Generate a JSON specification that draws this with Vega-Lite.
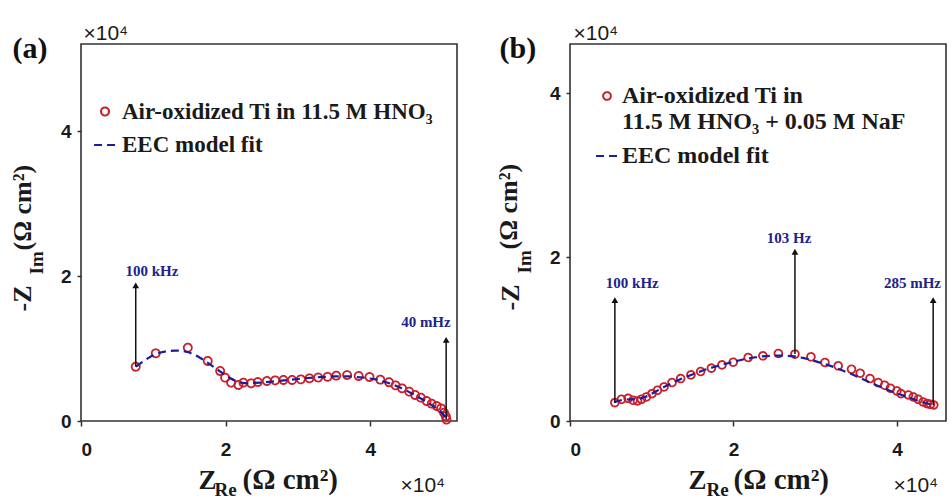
{
  "$schema": "https://vega.github.io/schema/vega-lite/v6.json",
  "background": "white",
  "padding": {"left": 8, "top": 21, "right": 0, "bottom": 0},
  "bounds": "flush",
  "spacing": 113,
  "resolve": {
    "scale": {"color": "independent", "shape": "independent", "strokeDash": "independent", "size": "independent"},
    "legend": {"color": "independent", "shape": "independent", "strokeDash": "independent", "size": "independent"}
  },
  "config": {
    "view": {"stroke": "#333333", "strokeWidth": 1.6},
    "axis": {"grid": false}
  },
  "datasets": {
    "a_pts": [
      {"s": "Air-oxidized Ti in 11.5 M HNO₃", "x": 7570, "y": 7490},
      {"s": "Air-oxidized Ti in 11.5 M HNO₃", "x": 10340, "y": 9340},
      {"s": "Air-oxidized Ti in 11.5 M HNO₃", "x": 14770, "y": 10110},
      {"s": "Air-oxidized Ti in 11.5 M HNO₃", "x": 17530, "y": 8280},
      {"s": "Air-oxidized Ti in 11.5 M HNO₃", "x": 19240, "y": 6900},
      {"s": "Air-oxidized Ti in 11.5 M HNO₃", "x": 19930, "y": 5980},
      {"s": "Air-oxidized Ti in 11.5 M HNO₃", "x": 20760, "y": 5290},
      {"s": "Air-oxidized Ti in 11.5 M HNO₃", "x": 21770, "y": 4970},
      {"s": "Air-oxidized Ti in 11.5 M HNO₃", "x": 22460, "y": 5290},
      {"s": "Air-oxidized Ti in 11.5 M HNO₃", "x": 23530, "y": 5200},
      {"s": "Air-oxidized Ti in 11.5 M HNO₃", "x": 24450, "y": 5380},
      {"s": "Air-oxidized Ti in 11.5 M HNO₃", "x": 25700, "y": 5520},
      {"s": "Air-oxidized Ti in 11.5 M HNO₃", "x": 26850, "y": 5610},
      {"s": "Air-oxidized Ti in 11.5 M HNO₃", "x": 28000, "y": 5660},
      {"s": "Air-oxidized Ti in 11.5 M HNO₃", "x": 29200, "y": 5660},
      {"s": "Air-oxidized Ti in 11.5 M HNO₃", "x": 30400, "y": 5750},
      {"s": "Air-oxidized Ti in 11.5 M HNO₃", "x": 31600, "y": 5890},
      {"s": "Air-oxidized Ti in 11.5 M HNO₃", "x": 32800, "y": 6000},
      {"s": "Air-oxidized Ti in 11.5 M HNO₃", "x": 34100, "y": 6100},
      {"s": "Air-oxidized Ti in 11.5 M HNO₃", "x": 35300, "y": 6250},
      {"s": "Air-oxidized Ti in 11.5 M HNO₃", "x": 36800, "y": 6340},
      {"s": "Air-oxidized Ti in 11.5 M HNO₃", "x": 38400, "y": 6210},
      {"s": "Air-oxidized Ti in 11.5 M HNO₃", "x": 39900, "y": 6070},
      {"s": "Air-oxidized Ti in 11.5 M HNO₃", "x": 41400, "y": 5700},
      {"s": "Air-oxidized Ti in 11.5 M HNO₃", "x": 42600, "y": 5350},
      {"s": "Air-oxidized Ti in 11.5 M HNO₃", "x": 43500, "y": 4920},
      {"s": "Air-oxidized Ti in 11.5 M HNO₃", "x": 44400, "y": 4510},
      {"s": "Air-oxidized Ti in 11.5 M HNO₃", "x": 45400, "y": 4050},
      {"s": "Air-oxidized Ti in 11.5 M HNO₃", "x": 46200, "y": 3590},
      {"s": "Air-oxidized Ti in 11.5 M HNO₃", "x": 47000, "y": 3220},
      {"s": "Air-oxidized Ti in 11.5 M HNO₃", "x": 47800, "y": 2760},
      {"s": "Air-oxidized Ti in 11.5 M HNO₃", "x": 48500, "y": 2390},
      {"s": "Air-oxidized Ti in 11.5 M HNO₃", "x": 49200, "y": 2070},
      {"s": "Air-oxidized Ti in 11.5 M HNO₃", "x": 49800, "y": 1750},
      {"s": "Air-oxidized Ti in 11.5 M HNO₃", "x": 50200, "y": 1150},
      {"s": "Air-oxidized Ti in 11.5 M HNO₃", "x": 50450, "y": 650},
      {"s": "Air-oxidized Ti in 11.5 M HNO₃", "x": 50550, "y": 200}
    ],
    "a_fit": [
      {"s": "EEC model fit", "x": 7600, "y": 7500},
      {"s": "EEC model fit", "x": 9000, "y": 8500},
      {"s": "EEC model fit", "x": 10000, "y": 9100},
      {"s": "EEC model fit", "x": 11000, "y": 9450},
      {"s": "EEC model fit", "x": 12000, "y": 9650},
      {"s": "EEC model fit", "x": 13000, "y": 9720},
      {"s": "EEC model fit", "x": 14000, "y": 9680},
      {"s": "EEC model fit", "x": 15000, "y": 9450},
      {"s": "EEC model fit", "x": 16000, "y": 9000},
      {"s": "EEC model fit", "x": 17000, "y": 8400},
      {"s": "EEC model fit", "x": 18000, "y": 7700},
      {"s": "EEC model fit", "x": 19000, "y": 7000},
      {"s": "EEC model fit", "x": 20000, "y": 6300},
      {"s": "EEC model fit", "x": 21000, "y": 5700},
      {"s": "EEC model fit", "x": 22000, "y": 5300},
      {"s": "EEC model fit", "x": 23000, "y": 5200},
      {"s": "EEC model fit", "x": 25000, "y": 5300},
      {"s": "EEC model fit", "x": 27000, "y": 5500},
      {"s": "EEC model fit", "x": 29000, "y": 5700},
      {"s": "EEC model fit", "x": 31000, "y": 5900},
      {"s": "EEC model fit", "x": 33000, "y": 6050},
      {"s": "EEC model fit", "x": 35000, "y": 6150},
      {"s": "EEC model fit", "x": 37000, "y": 6150},
      {"s": "EEC model fit", "x": 39000, "y": 6000},
      {"s": "EEC model fit", "x": 41000, "y": 5700},
      {"s": "EEC model fit", "x": 43000, "y": 5100},
      {"s": "EEC model fit", "x": 45000, "y": 4200},
      {"s": "EEC model fit", "x": 47000, "y": 3100},
      {"s": "EEC model fit", "x": 48500, "y": 2200},
      {"s": "EEC model fit", "x": 49500, "y": 1500},
      {"s": "EEC model fit", "x": 50200, "y": 800},
      {"s": "EEC model fit", "x": 50500, "y": 200}
    ],
    "a_arrows": [
      {"x": 7570, "y": 7490, "y2": 18700},
      {"x": 50500, "y": 200, "y2": 11200}
    ],
    "a_heads": [
      {"x": 7570, "y": 18700},
      {"x": 50500, "y": 11200}
    ],
    "a_labels": [
      {"x": 9800, "y": 20700, "label": "100 kHz"},
      {"x": 47700, "y": 13700, "label": "40 mHz"}
    ],
    "b_pts": [
      {"s": "Air-oxidized Ti in 11.5 M HNO₃ + 0.05 M NaF", "x": 5490, "y": 2240},
      {"s": "Air-oxidized Ti in 11.5 M HNO₃ + 0.05 M NaF", "x": 6300, "y": 2650},
      {"s": "Air-oxidized Ti in 11.5 M HNO₃ + 0.05 M NaF", "x": 7110, "y": 2770},
      {"s": "Air-oxidized Ti in 11.5 M HNO₃ + 0.05 M NaF", "x": 7720, "y": 2530},
      {"s": "Air-oxidized Ti in 11.5 M HNO₃ + 0.05 M NaF", "x": 8260, "y": 2450},
      {"s": "Air-oxidized Ti in 11.5 M HNO₃ + 0.05 M NaF", "x": 8740, "y": 2650},
      {"s": "Air-oxidized Ti in 11.5 M HNO₃ + 0.05 M NaF", "x": 9350, "y": 2940},
      {"s": "Air-oxidized Ti in 11.5 M HNO₃ + 0.05 M NaF", "x": 10040, "y": 3340},
      {"s": "Air-oxidized Ti in 11.5 M HNO₃ + 0.05 M NaF", "x": 10700, "y": 3750},
      {"s": "Air-oxidized Ti in 11.5 M HNO₃ + 0.05 M NaF", "x": 11500, "y": 4160},
      {"s": "Air-oxidized Ti in 11.5 M HNO₃ + 0.05 M NaF", "x": 12480, "y": 4690},
      {"s": "Air-oxidized Ti in 11.5 M HNO₃ + 0.05 M NaF", "x": 13540, "y": 5180},
      {"s": "Air-oxidized Ti in 11.5 M HNO₃ + 0.05 M NaF", "x": 14800, "y": 5630},
      {"s": "Air-oxidized Ti in 11.5 M HNO₃ + 0.05 M NaF", "x": 15980, "y": 6040},
      {"s": "Air-oxidized Ti in 11.5 M HNO₃ + 0.05 M NaF", "x": 17300, "y": 6450},
      {"s": "Air-oxidized Ti in 11.5 M HNO₃ + 0.05 M NaF", "x": 18600, "y": 6850},
      {"s": "Air-oxidized Ti in 11.5 M HNO₃ + 0.05 M NaF", "x": 19970, "y": 7180},
      {"s": "Air-oxidized Ti in 11.5 M HNO₃ + 0.05 M NaF", "x": 21800, "y": 7750},
      {"s": "Air-oxidized Ti in 11.5 M HNO₃ + 0.05 M NaF", "x": 23600, "y": 7950},
      {"s": "Air-oxidized Ti in 11.5 M HNO₃ + 0.05 M NaF", "x": 25490, "y": 8240},
      {"s": "Air-oxidized Ti in 11.5 M HNO₃ + 0.05 M NaF", "x": 27520, "y": 8160},
      {"s": "Air-oxidized Ti in 11.5 M HNO₃ + 0.05 M NaF", "x": 29480, "y": 7830},
      {"s": "Air-oxidized Ti in 11.5 M HNO₃ + 0.05 M NaF", "x": 31190, "y": 7140},
      {"s": "Air-oxidized Ti in 11.5 M HNO₃ + 0.05 M NaF", "x": 32810, "y": 6730},
      {"s": "Air-oxidized Ti in 11.5 M HNO₃ + 0.05 M NaF", "x": 34440, "y": 6320},
      {"s": "Air-oxidized Ti in 11.5 M HNO₃ + 0.05 M NaF", "x": 35500, "y": 5830},
      {"s": "Air-oxidized Ti in 11.5 M HNO₃ + 0.05 M NaF", "x": 36700, "y": 5180},
      {"s": "Air-oxidized Ti in 11.5 M HNO₃ + 0.05 M NaF", "x": 37700, "y": 4690},
      {"s": "Air-oxidized Ti in 11.5 M HNO₃ + 0.05 M NaF", "x": 38500, "y": 4360},
      {"s": "Air-oxidized Ti in 11.5 M HNO₃ + 0.05 M NaF", "x": 39200, "y": 4000},
      {"s": "Air-oxidized Ti in 11.5 M HNO₃ + 0.05 M NaF", "x": 40000, "y": 3670},
      {"s": "Air-oxidized Ti in 11.5 M HNO₃ + 0.05 M NaF", "x": 40500, "y": 3340},
      {"s": "Air-oxidized Ti in 11.5 M HNO₃ + 0.05 M NaF", "x": 41400, "y": 3180},
      {"s": "Air-oxidized Ti in 11.5 M HNO₃ + 0.05 M NaF", "x": 42000, "y": 2940},
      {"s": "Air-oxidized Ti in 11.5 M HNO₃ + 0.05 M NaF", "x": 42600, "y": 2650},
      {"s": "Air-oxidized Ti in 11.5 M HNO₃ + 0.05 M NaF", "x": 43200, "y": 2320},
      {"s": "Air-oxidized Ti in 11.5 M HNO₃ + 0.05 M NaF", "x": 43700, "y": 2120},
      {"s": "Air-oxidized Ti in 11.5 M HNO₃ + 0.05 M NaF", "x": 44100, "y": 2040},
      {"s": "Air-oxidized Ti in 11.5 M HNO₃ + 0.05 M NaF", "x": 44500, "y": 1960}
    ],
    "b_fit": [
      {"s": "EEC model fit", "x": 5400, "y": 2300},
      {"s": "EEC model fit", "x": 6500, "y": 2600},
      {"s": "EEC model fit", "x": 7500, "y": 2650},
      {"s": "EEC model fit", "x": 8500, "y": 2700},
      {"s": "EEC model fit", "x": 9500, "y": 3050},
      {"s": "EEC model fit", "x": 10500, "y": 3600},
      {"s": "EEC model fit", "x": 11500, "y": 4150},
      {"s": "EEC model fit", "x": 12500, "y": 4650},
      {"s": "EEC model fit", "x": 13500, "y": 5100},
      {"s": "EEC model fit", "x": 14500, "y": 5500},
      {"s": "EEC model fit", "x": 15500, "y": 5880},
      {"s": "EEC model fit", "x": 16500, "y": 6250},
      {"s": "EEC model fit", "x": 17500, "y": 6550},
      {"s": "EEC model fit", "x": 18500, "y": 6850},
      {"s": "EEC model fit", "x": 19500, "y": 7100},
      {"s": "EEC model fit", "x": 20500, "y": 7350},
      {"s": "EEC model fit", "x": 21500, "y": 7580},
      {"s": "EEC model fit", "x": 22500, "y": 7750},
      {"s": "EEC model fit", "x": 23500, "y": 7880},
      {"s": "EEC model fit", "x": 24500, "y": 7950},
      {"s": "EEC model fit", "x": 25500, "y": 7980},
      {"s": "EEC model fit", "x": 26500, "y": 7960},
      {"s": "EEC model fit", "x": 27500, "y": 7880},
      {"s": "EEC model fit", "x": 28500, "y": 7700},
      {"s": "EEC model fit", "x": 29500, "y": 7450},
      {"s": "EEC model fit", "x": 30500, "y": 7150},
      {"s": "EEC model fit", "x": 31500, "y": 6850},
      {"s": "EEC model fit", "x": 32500, "y": 6500},
      {"s": "EEC model fit", "x": 33500, "y": 6100},
      {"s": "EEC model fit", "x": 34500, "y": 5700},
      {"s": "EEC model fit", "x": 35500, "y": 5250},
      {"s": "EEC model fit", "x": 36500, "y": 4800},
      {"s": "EEC model fit", "x": 37500, "y": 4350},
      {"s": "EEC model fit", "x": 38500, "y": 3950},
      {"s": "EEC model fit", "x": 39500, "y": 3550},
      {"s": "EEC model fit", "x": 40500, "y": 3200},
      {"s": "EEC model fit", "x": 41500, "y": 2850},
      {"s": "EEC model fit", "x": 42500, "y": 2500},
      {"s": "EEC model fit", "x": 43500, "y": 2200},
      {"s": "EEC model fit", "x": 44400, "y": 1950}
    ],
    "b_arrows": [
      {"x": 5490, "y": 2240, "y2": 14750},
      {"x": 27520, "y": 8160, "y2": 20650},
      {"x": 44430, "y": 1960, "y2": 14750}
    ],
    "b_heads": [
      {"x": 5490, "y": 14750},
      {"x": 27520, "y": 20650},
      {"x": 44430, "y": 14750}
    ],
    "b_labels": [
      {"x": 7620, "y": 16800, "label": "100 kHz"},
      {"x": 26800, "y": 22300, "label": "103 Hz"},
      {"x": 41900, "y": 16800, "label": "285 mHz"}
    ]
  },
  "hconcat": [
    {
      "width": 376,
      "height": 377,
      "resolve": {"axis": {"x": "independent", "y": "independent"}},
      "layer": [
        {
          "data": {"name": "a_pts"},
          "mark": {"type": "point", "filled": false, "strokeWidth": 1.8, "opacity": 1},
          "encoding": {
            "x": {"field": "x", "type": "quantitative", "scale": {"domain": [0, 52000], "nice": false, "zero": false},
              "axis": {"orient": "bottom", "values": [0, 20000, 40000], "labelExpr": "'' + datum.value / 10000", "labelFont": "Liberation Sans", "labelFontWeight": "bold", "labelFontSize": 19, "labelColor": "#1a1a1a", "labelPadding": 14, "tickSize": 5, "tickColor": "#333333", "tickWidth": 1.5, "domain": false, "grid": false,
                "title": "Z", "titleFont": "Liberation Serif", "titleFontSize": 27, "titleFontWeight": "bold", "titleColor": "#1a1a1a", "titleX": 117, "titleY": 67, "titleAlign": "left", "titleBaseline": "alphabetic", "titleAngle": 0}},
            "y": {"field": "y", "type": "quantitative", "scale": {"domain": [0, 52000], "nice": false, "zero": false},
              "axis": {"orient": "left", "values": [0, 20000, 40000], "labelExpr": "'' + datum.value / 10000", "labelFont": "Liberation Sans", "labelFontWeight": "bold", "labelFontSize": 19, "labelColor": "#1a1a1a", "labelPadding": 6, "tickSize": 4, "tickColor": "#333333", "tickWidth": 1.5, "domain": false, "grid": false,
                "title": "-Z", "titleFont": "Liberation Serif", "titleFontSize": 26, "titleFontWeight": "bold", "titleColor": "#1a1a1a", "titleX": -51, "titleY": 267, "titleAlign": "left", "titleBaseline": "alphabetic", "titleAngle": -90}},
            "color": {"field": "s", "type": "nominal", "scale": {"domain": ["Air-oxidized Ti in 11.5 M HNO₃", "EEC model fit"], "range": ["#c8202a", "#1c1c9c"]},
              "legend": {"orient": "none", "legendX": 12, "legendY": 56, "title": null, "padding": 0, "labelFont": "Liberation Serif", "labelFontWeight": "bold", "labelFontSize": 23, "labelColor": "#1a1a1a", "labelLimit": 400, "labelOffset": 5, "rowPadding": 9, "symbolStrokeWidth": 2}},
            "shape": {"field": "s", "type": "nominal", "scale": {"domain": ["Air-oxidized Ti in 11.5 M HNO₃", "EEC model fit"], "range": ["circle", "stroke"]},
              "legend": {"orient": "none", "legendX": 12, "legendY": 56, "title": null, "padding": 0, "labelFont": "Liberation Serif", "labelFontWeight": "bold", "labelFontSize": 23, "labelColor": "#1a1a1a", "labelLimit": 400, "labelOffset": 5, "rowPadding": 9, "symbolStrokeWidth": 2}},
            "strokeDash": {"field": "s", "type": "nominal", "scale": {"domain": ["Air-oxidized Ti in 11.5 M HNO₃", "EEC model fit"], "range": [[1, 0], [8, 5]]},
              "legend": {"orient": "none", "legendX": 12, "legendY": 56, "title": null, "padding": 0, "labelFont": "Liberation Serif", "labelFontWeight": "bold", "labelFontSize": 23, "labelColor": "#1a1a1a", "labelLimit": 400, "labelOffset": 5, "rowPadding": 9, "symbolStrokeWidth": 2}},
            "size": {"field": "s", "type": "nominal", "scale": {"domain": ["Air-oxidized Ti in 11.5 M HNO₃", "EEC model fit"], "range": [65, 480]},
              "legend": {"orient": "none", "legendX": 12, "legendY": 56, "title": null, "padding": 0, "labelFont": "Liberation Serif", "labelFontWeight": "bold", "labelFontSize": 23, "labelColor": "#1a1a1a", "labelLimit": 400, "labelOffset": 5, "rowPadding": 9, "symbolStrokeWidth": 2}}
          }
        },
        {
          "data": {"name": "a_fit"},
          "mark": {"type": "line", "strokeWidth": 2.2},
          "encoding": {
            "x": {"field": "x", "type": "quantitative", "axis": {"orient": "bottom", "labels": false, "ticks": false, "domain": false, "grid": false, "title": "Re", "titleFont": "Liberation Serif", "titleFontSize": 19, "titleFontWeight": "bold", "titleColor": "#1a1a1a", "titleX": 133, "titleY": 74, "titleAlign": "left", "titleBaseline": "alphabetic", "titleAngle": 0}},
            "y": {"field": "y", "type": "quantitative", "axis": {"orient": "left", "labels": false, "ticks": false, "domain": false, "grid": false, "title": "Im", "titleFont": "Liberation Serif", "titleFontSize": 19, "titleFontWeight": "bold", "titleColor": "#1a1a1a", "titleX": -39, "titleY": 230, "titleAlign": "left", "titleBaseline": "alphabetic", "titleAngle": -90}},
            "color": {"field": "s", "type": "nominal"},
            "strokeDash": {"field": "s", "type": "nominal"}
          }
        },
        {
          "data": {"name": "a_arrows"},
          "mark": {"type": "rule", "color": "#111111", "strokeWidth": 1.5},
          "encoding": {
            "x": {"field": "x", "type": "quantitative", "axis": {"orient": "bottom", "labels": false, "ticks": false, "domain": false, "grid": false, "title": "(Ω cm²)", "titleFont": "Liberation Serif", "titleFontSize": 29, "titleFontWeight": "bold", "titleColor": "#1a1a1a", "titleX": 161, "titleY": 67, "titleAlign": "left", "titleBaseline": "alphabetic", "titleAngle": 0}},
            "y": {"field": "y", "type": "quantitative", "axis": {"orient": "left", "labels": false, "ticks": false, "domain": false, "grid": false, "title": "(Ω cm²)", "titleFont": "Liberation Serif", "titleFontSize": 26, "titleFontWeight": "bold", "titleColor": "#1a1a1a", "titleX": -51, "titleY": 206, "titleAlign": "left", "titleBaseline": "alphabetic", "titleAngle": -90}},
            "y2": {"field": "y2"}
          }
        },
        {
          "data": {"name": "a_heads"},
          "mark": {"type": "point", "shape": "triangle-up", "filled": true, "size": 45, "color": "#111111", "opacity": 1},
          "encoding": {
            "x": {"field": "x", "type": "quantitative", "axis": {"orient": "bottom", "labels": false, "ticks": false, "domain": false, "grid": false, "title": "×10⁴", "titleFont": "Liberation Sans", "titleFontSize": 21, "titleFontWeight": "normal", "titleColor": "#1a1a1a", "titleX": 319, "titleY": 70, "titleAlign": "left", "titleBaseline": "alphabetic", "titleAngle": 0}},
            "y": {"field": "y", "type": "quantitative", "axis": {"orient": "left", "labels": false, "ticks": false, "domain": false, "grid": false, "title": "×10⁴", "titleFont": "Liberation Sans", "titleFontSize": 21, "titleFontWeight": "normal", "titleColor": "#1a1a1a", "titleX": 2, "titleY": -5, "titleAlign": "left", "titleBaseline": "alphabetic", "titleAngle": 0}}
          }
        },
        {
          "data": {"name": "a_labels"},
          "mark": {"type": "text", "font": "Liberation Serif", "fontWeight": "bold", "fontSize": 15, "color": "#22228a", "align": "center", "baseline": "middle"},
          "encoding": {
            "x": {"field": "x", "type": "quantitative", "axis": null},
            "y": {"field": "y", "type": "quantitative", "axis": {"orient": "left", "labels": false, "ticks": false, "domain": false, "grid": false, "title": "(a)", "titleFont": "Liberation Serif", "titleFontSize": 30, "titleFontWeight": "bold", "titleColor": "#111111", "titleX": -69, "titleY": 13, "titleAlign": "left", "titleBaseline": "alphabetic", "titleAngle": 0}},
            "text": {"field": "label"}
          }
        }
      ]
    },
    {
      "width": 376,
      "height": 377,
      "resolve": {"axis": {"x": "independent", "y": "independent"}},
      "layer": [
        {
          "data": {"name": "b_pts"},
          "mark": {"type": "point", "filled": false, "strokeWidth": 1.8, "opacity": 1},
          "encoding": {
            "x": {"field": "x", "type": "quantitative", "scale": {"domain": [0, 46000], "nice": false, "zero": false},
              "axis": {"orient": "bottom", "values": [0, 20000, 40000], "labelExpr": "'' + datum.value / 10000", "labelFont": "Liberation Sans", "labelFontWeight": "bold", "labelFontSize": 19, "labelColor": "#1a1a1a", "labelPadding": 14, "tickSize": 5, "tickColor": "#333333", "tickWidth": 1.5, "domain": false, "grid": false,
                "title": "Z", "titleFont": "Liberation Serif", "titleFontSize": 27, "titleFontWeight": "bold", "titleColor": "#1a1a1a", "titleX": 118, "titleY": 67, "titleAlign": "left", "titleBaseline": "alphabetic", "titleAngle": 0}},
            "y": {"field": "y", "type": "quantitative", "scale": {"domain": [0, 46000], "nice": false, "zero": false},
              "axis": {"orient": "left", "values": [0, 20000, 40000], "labelExpr": "'' + datum.value / 10000", "labelFont": "Liberation Sans", "labelFontWeight": "bold", "labelFontSize": 19, "labelColor": "#1a1a1a", "labelPadding": 6, "tickSize": 4, "tickColor": "#333333", "tickWidth": 1.5, "domain": false, "grid": false,
                "title": "-Z", "titleFont": "Liberation Serif", "titleFontSize": 26, "titleFontWeight": "bold", "titleColor": "#1a1a1a", "titleX": -52, "titleY": 266, "titleAlign": "left", "titleBaseline": "alphabetic", "titleAngle": -90}},
            "color": {"field": "s", "type": "nominal", "scale": {"domain": ["Air-oxidized Ti in 11.5 M HNO₃ + 0.05 M NaF", "EEC model fit"], "range": ["#c8202a", "#1c1c9c"]},
              "legend": {"orient": "none", "legendX": 25, "legendY": 40, "title": null, "padding": 0, "labelFont": "Liberation Serif", "labelFontWeight": "bold", "labelFontSize": 24, "labelColor": "#1a1a1a", "labelLimit": 400, "labelOffset": 3, "rowPadding": 10, "symbolStrokeWidth": 2, "labelExpr": "datum.label == 'EEC model fit' ? datum.label : ['Air-oxidized Ti in', '11.5 M HNO₃ + 0.05 M NaF']"}},
            "shape": {"field": "s", "type": "nominal", "scale": {"domain": ["Air-oxidized Ti in 11.5 M HNO₃ + 0.05 M NaF", "EEC model fit"], "range": ["circle", "stroke"]},
              "legend": {"orient": "none", "legendX": 25, "legendY": 40, "title": null, "padding": 0, "labelFont": "Liberation Serif", "labelFontWeight": "bold", "labelFontSize": 24, "labelColor": "#1a1a1a", "labelLimit": 400, "labelOffset": 3, "rowPadding": 10, "symbolStrokeWidth": 2, "labelExpr": "datum.label == 'EEC model fit' ? datum.label : ['Air-oxidized Ti in', '11.5 M HNO₃ + 0.05 M NaF']"}},
            "strokeDash": {"field": "s", "type": "nominal", "scale": {"domain": ["Air-oxidized Ti in 11.5 M HNO₃ + 0.05 M NaF", "EEC model fit"], "range": [[1, 0], [8, 5]]},
              "legend": {"orient": "none", "legendX": 25, "legendY": 40, "title": null, "padding": 0, "labelFont": "Liberation Serif", "labelFontWeight": "bold", "labelFontSize": 24, "labelColor": "#1a1a1a", "labelLimit": 400, "labelOffset": 3, "rowPadding": 10, "symbolStrokeWidth": 2, "labelExpr": "datum.label == 'EEC model fit' ? datum.label : ['Air-oxidized Ti in', '11.5 M HNO₃ + 0.05 M NaF']"}},
            "size": {"field": "s", "type": "nominal", "scale": {"domain": ["Air-oxidized Ti in 11.5 M HNO₃ + 0.05 M NaF", "EEC model fit"], "range": [60, 480]},
              "legend": {"orient": "none", "legendX": 25, "legendY": 40, "title": null, "padding": 0, "labelFont": "Liberation Serif", "labelFontWeight": "bold", "labelFontSize": 24, "labelColor": "#1a1a1a", "labelLimit": 400, "labelOffset": 3, "rowPadding": 10, "symbolStrokeWidth": 2, "labelExpr": "datum.label == 'EEC model fit' ? datum.label : ['Air-oxidized Ti in', '11.5 M HNO₃ + 0.05 M NaF']"}}
          }
        },
        {
          "data": {"name": "b_fit"},
          "mark": {"type": "line", "strokeWidth": 2.2},
          "encoding": {
            "x": {"field": "x", "type": "quantitative", "axis": {"orient": "bottom", "labels": false, "ticks": false, "domain": false, "grid": false, "title": "Re", "titleFont": "Liberation Serif", "titleFontSize": 19, "titleFontWeight": "bold", "titleColor": "#1a1a1a", "titleX": 136, "titleY": 74, "titleAlign": "left", "titleBaseline": "alphabetic", "titleAngle": 0}},
            "y": {"field": "y", "type": "quantitative", "axis": {"orient": "left", "labels": false, "ticks": false, "domain": false, "grid": false, "title": "Im", "titleFont": "Liberation Serif", "titleFontSize": 19, "titleFontWeight": "bold", "titleColor": "#1a1a1a", "titleX": -40, "titleY": 229, "titleAlign": "left", "titleBaseline": "alphabetic", "titleAngle": -90}},
            "color": {"field": "s", "type": "nominal"},
            "strokeDash": {"field": "s", "type": "nominal"}
          }
        },
        {
          "data": {"name": "b_arrows"},
          "mark": {"type": "rule", "color": "#111111", "strokeWidth": 1.5},
          "encoding": {
            "x": {"field": "x", "type": "quantitative", "axis": {"orient": "bottom", "labels": false, "ticks": false, "domain": false, "grid": false, "title": "(Ω cm²)", "titleFont": "Liberation Serif", "titleFontSize": 29, "titleFontWeight": "bold", "titleColor": "#1a1a1a", "titleX": 163, "titleY": 67, "titleAlign": "left", "titleBaseline": "alphabetic", "titleAngle": 0}},
            "y": {"field": "y", "type": "quantitative", "axis": {"orient": "left", "labels": false, "ticks": false, "domain": false, "grid": false, "title": "(Ω cm²)", "titleFont": "Liberation Serif", "titleFontSize": 26, "titleFontWeight": "bold", "titleColor": "#1a1a1a", "titleX": -54, "titleY": 205, "titleAlign": "left", "titleBaseline": "alphabetic", "titleAngle": -90}},
            "y2": {"field": "y2"}
          }
        },
        {
          "data": {"name": "b_heads"},
          "mark": {"type": "point", "shape": "triangle-up", "filled": true, "size": 45, "color": "#111111", "opacity": 1},
          "encoding": {
            "x": {"field": "x", "type": "quantitative", "axis": {"orient": "bottom", "labels": false, "ticks": false, "domain": false, "grid": false, "title": "×10⁴", "titleFont": "Liberation Sans", "titleFontSize": 21, "titleFontWeight": "normal", "titleColor": "#1a1a1a", "titleX": 323, "titleY": 70, "titleAlign": "left", "titleBaseline": "alphabetic", "titleAngle": 0}},
            "y": {"field": "y", "type": "quantitative", "axis": {"orient": "left", "labels": false, "ticks": false, "domain": false, "grid": false, "title": "×10⁴", "titleFont": "Liberation Sans", "titleFontSize": 21, "titleFontWeight": "normal", "titleColor": "#1a1a1a", "titleX": 3, "titleY": -5, "titleAlign": "left", "titleBaseline": "alphabetic", "titleAngle": 0}}
          }
        },
        {
          "data": {"name": "b_labels"},
          "mark": {"type": "text", "font": "Liberation Serif", "fontWeight": "bold", "fontSize": 15, "color": "#22228a", "align": "center", "baseline": "middle"},
          "encoding": {
            "x": {"field": "x", "type": "quantitative", "axis": null},
            "y": {"field": "y", "type": "quantitative", "axis": {"orient": "left", "labels": false, "ticks": false, "domain": false, "grid": false, "title": "(b)", "titleFont": "Liberation Serif", "titleFontSize": 30, "titleFontWeight": "bold", "titleColor": "#111111", "titleX": -71, "titleY": 13, "titleAlign": "left", "titleBaseline": "alphabetic", "titleAngle": 0}},
            "text": {"field": "label"}
          }
        }
      ]
    }
  ]
}
